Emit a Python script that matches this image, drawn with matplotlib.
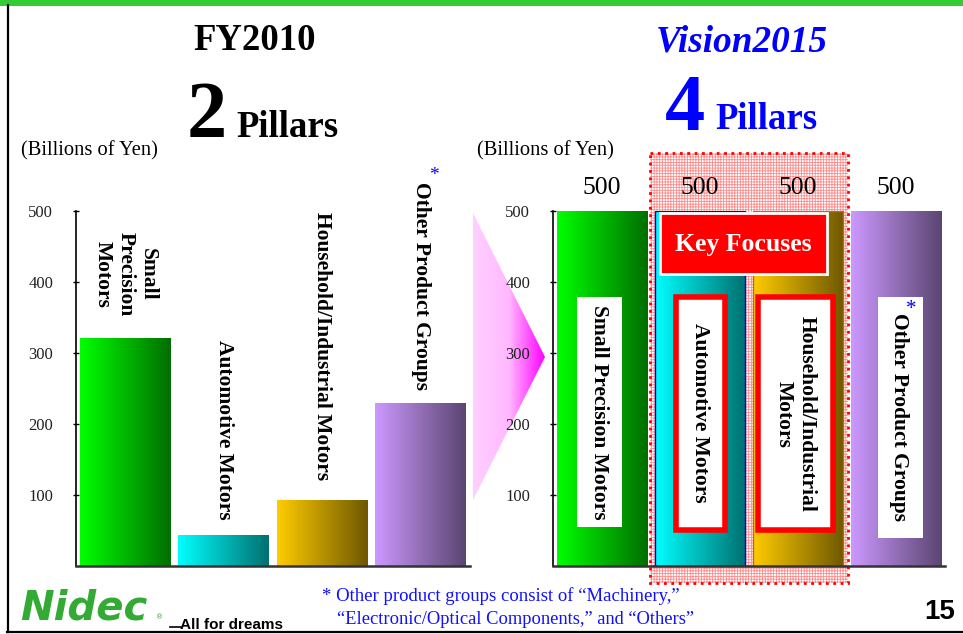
import numpy as np
import matplotlib
matplotlib.use('Agg')
import matplotlib.pyplot as plt
from matplotlib.colors import LinearSegmentedColormap
from matplotlib.patches import Rectangle, Polygon

plt.rcParams['font.family'] = ['Liberation Serif', 'DejaVu Serif']
plt.rcParams['hatch.linewidth'] = 0.6

W, H = 963, 634

# data
segments_2010 = ['Small\nPrecision\nMotors', 'Automotive Motors',
                 'Household/Industrial Motors', 'Other Product Groups']
sales_2010 = [321, 44, 93, 230]
segments_2015 = ['Small Precision Motors', 'Automotive Motors',
                 'Household/Industrial\nMotors', 'Other Product Groups']
sales_2015 = [500, 500, 500, 500]
yticks = [100, 200, 300, 400, 500]

bar_colors = [('#00ff00', '#006e00'), ('#00ffff', '#007070'),
              ('#ffcc00', '#6e5800'), ('#cc99ff', '#5a4570')]

fig = plt.figure(figsize=(W / 100, H / 100), dpi=100)


def px_axes(x0, x1, y0, y1, z):
    ax = fig.add_axes([x0 / W, 1 - y1 / H, (x1 - x0) / W, (y1 - y0) / H], zorder=z)
    ax.patch.set_visible(False)
    return ax


bg = px_axes(0, W, 0, H, 0)
bg.set_xlim(0, W)
bg.set_ylim(H, 0)
bg.axis('off')

top = px_axes(0, W, 0, H, 5)
top.set_xlim(0, W)
top.set_ylim(H, 0)
top.axis('off')

ax1 = px_axes(76, 470, 211, 566, 2)
ax2 = px_axes(553, 945, 211, 566, 2)


def gradient_bars(ax, values):
    bars = ax.bar(range(len(values)), values, width=0.92, color='none',
                  linewidth=0, zorder=2)
    grad = np.linspace(0, 1, 256).reshape(1, -1)
    for bar, (c0, c1) in zip(bars, bar_colors):
        cmap = LinearSegmentedColormap.from_list('g', [c0, c1])
        x0, w, h = bar.get_x(), bar.get_width(), bar.get_height()
        im = ax.imshow(grad, cmap=cmap, extent=[x0, x0 + w, 0, h],
                       aspect='auto', zorder=1)
        im.set_clip_path(bar)
    ax.set_xlim(-0.5, 3.5)
    ax.set_ylim(0, 500)
    ax.set_xticks([])
    ax.set_yticks(yticks)
    ax.tick_params(axis='y', direction='inout', length=5, width=1,
                   pad=14, labelsize=12, labelcolor='#222222')
    for s in ['top', 'right']:
        ax.spines[s].set_visible(False)
    ax.spines['left'].set_linewidth(1.2)
    ax.spines['bottom'].set_linewidth(1.8)
    ax.spines['bottom'].set_color('#333333')
    return bars


gradient_bars(ax1, sales_2010)
bars2 = gradient_bars(ax2, sales_2015)
bars2[1].set_edgecolor('#0000ff')
bars2[1].set_linewidth(1)
bars2[2].set_edgecolor('#cc6600')
bars2[2].set_linewidth(1)
ax2.bar_label(bars2, labels=[str(v) for v in sales_2015], padding=9,
              fontsize=18.5)

# left chart labels
label_tops = [470, 318, 498, 541]
for i, (lab, yt) in enumerate(zip(segments_2010, label_tops)):
    ax1.text(i, yt, lab, rotation=-90, ha='center', va='top',
             fontsize=15.5, fontweight='bold', multialignment='center',
             clip_on=False, zorder=4)
top.text(434, 175, '*', color='#0000ff', fontsize=14, ha='center', va='center')

# frame
bg.add_patch(Rectangle((0, 0), W, 5.5, fc='#33cc33', ec='none'))
bg.plot([7.5, 7.5], [5, 632], color='black', lw=1.6)
bg.plot([7, W], [632, 632], color='black', lw=1.6)

# titles
bg.text(255, 50, 'FY2010', ha='center', va='baseline', fontsize=26.5,
        fontweight='bold')
bg.text(187, 137, '2', ha='left', va='baseline', fontsize=58, fontweight='bold')
bg.text(236, 137, 'Pillars', ha='left', va='baseline', fontsize=26.5,
        fontweight='bold')
bg.text(21, 155, '(Billions of Yen)', ha='left', va='baseline', fontsize=14.8)

bg.text(742, 52, 'Vision2015', ha='center', va='baseline', fontsize=26.8,
        fontweight='bold', style='italic', color='#0000ff')
bg.text(665, 130, '4', ha='left', va='baseline', fontsize=58,
        fontweight='bold', color='#0000ff')
bg.text(715, 129, 'Pillars', ha='left', va='baseline', fontsize=26.5,
        fontweight='bold', color='#0000ff')
bg.text(477, 155, '(Billions of Yen)', ha='left', va='baseline', fontsize=14.8)

# chevron
chev = Polygon([(473, 213), (545, 357), (473, 500)], closed=True,
               fc='none', ec='none')
bg.add_patch(chev)
pink = LinearSegmentedColormap.from_list('p', ['#ffd0ff', '#ffb8ff', '#ff00ff'])
im = bg.imshow(np.linspace(0, 1, 256).reshape(1, -1), cmap=pink,
               extent=[473, 545, 500, 213], aspect='auto', zorder=1)
im.set_clip_path(chev)

# key focus region
bg.add_patch(Rectangle((650, 153), 198, 430, fill=False, hatch='++++++',
                       ec='#ff8c8c', lw=0, zorder=1))
bg.add_patch(Rectangle((650, 153), 198, 430, fill=False, ec='#ff0000',
                       ls=':', lw=2, zorder=1.5))
bg.set_xlim(0, W)
bg.set_ylim(H, 0)

# right chart labels
top.add_patch(Rectangle((660, 213), 167, 61, fc='#ff0000', ec='white', lw=2))
top.text(743.5, 244, 'Key Focuses', ha='center', va='center', color='white',
         fontsize=18.5, fontweight='bold')

top.add_patch(Rectangle((577, 297), 45, 230, fc='white', ec='none'))
top.add_patch(Rectangle((675.75, 296.75), 49.5, 233.5, fc='white',
                        ec='#ff0000', lw=4))
top.add_patch(Rectangle((757.75, 296.75), 75.5, 233.5, fc='white',
                        ec='#ff0000', lw=4))
top.add_patch(Rectangle((878, 297), 45, 241, fc='white', ec='none'))
label_centers = [(599, 412), (700, 413), (795, 414), (899, 417)]
for lab, (x, y) in zip(segments_2015, label_centers):
    top.text(x, y, lab, rotation=-90, ha='center', va='center',
             fontsize=15.5, fontweight='bold', multialignment='center')
top.text(911, 309, '*', color='#0000ff', fontsize=15, ha='center', va='center')

# footer
top.text(20, 619, 'Nidec', ha='left', va='baseline', fontsize=29,
         fontfamily='DejaVu Sans', fontweight='heavy', style='italic',
         color='#33aa33')
top.text(156, 619, '\u00ae', ha='left', va='baseline', fontsize=5,
         fontfamily='DejaVu Sans', color='#33aa33')
top.plot([170, 182], [627, 627], color='black', lw=1.2)
top.text(180, 629, 'All for dreams', ha='left', va='baseline', fontsize=11,
         fontfamily='Liberation Sans', fontweight='bold')
top.text(322, 596, '* Other product groups consist of \u201cMachinery,\u201d',
         ha='left', va='center', fontsize=13.5, color='#1010ff')
top.text(337, 620, '\u201cElectronic/Optical Components,\u201d and \u201cOthers\u201d',
         ha='left', va='center', fontsize=13.3, color='#1010ff')
top.text(955, 612, '15', ha='right', va='center', fontsize=20,
         fontfamily='Liberation Sans', fontweight='bold')

fig.savefig('out.png', dpi=100)
